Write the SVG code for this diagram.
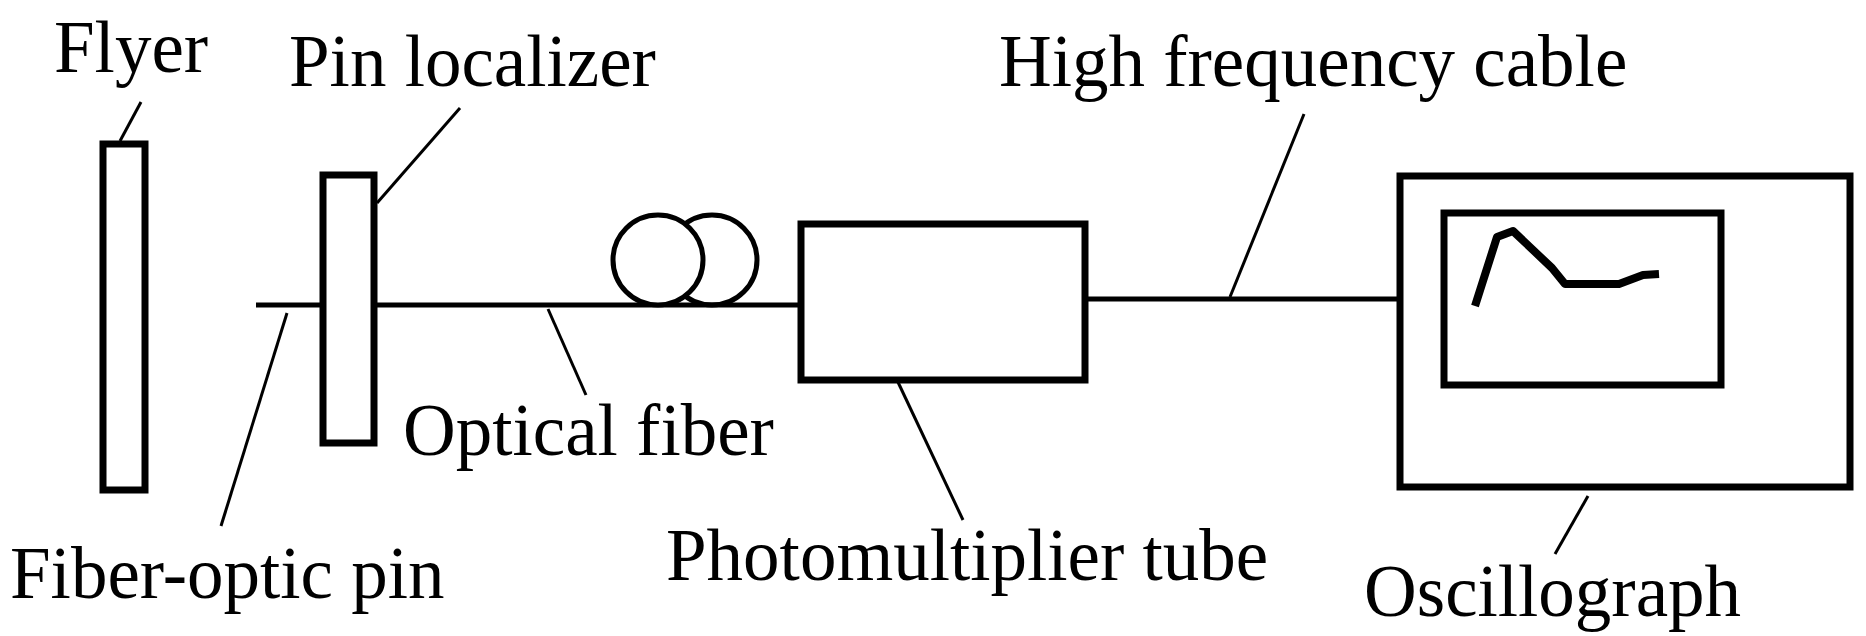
<svg xmlns="http://www.w3.org/2000/svg" width="1866" height="636" viewBox="0 0 1866 636">
<style>
.t{font-family:"Liberation Serif",serif;font-size:73px;fill:#000}
.b{fill:#fff;stroke:#000;stroke-width:7}
.l{fill:none;stroke:#000;stroke-width:3}
.w{fill:none;stroke:#000;stroke-width:5}
</style>
<rect width="1866" height="636" fill="#fff"/>
<g id="connectors">
<line class="w" x1="256" y1="305" x2="801" y2="305"/>
<line class="w" x1="1085" y1="299" x2="1397" y2="299"/>
<line class="l" x1="141" y1="102" x2="120" y2="141"/>
<line class="l" x1="460" y1="108" x2="377" y2="203"/>
<line class="l" x1="287" y1="313" x2="221" y2="526"/>
<line class="l" x1="548" y1="309" x2="586" y2="395"/>
<line class="l" x1="897" y1="380" x2="963" y2="520"/>
<line class="l" x1="1304" y1="114" x2="1230" y2="297"/>
<line class="l" x1="1588" y1="496" x2="1555" y2="554"/>
</g>
<g id="flyer"><rect class="b" x="103" y="144" width="42" height="346"/><text class="t" x="54" y="72">Flyer</text></g>
<g id="pin-localizer"><rect class="b" x="323" y="175" width="51" height="268"/><text class="t" x="289" y="86">Pin localizer</text></g>
<g id="fiber-optic-pin"><text class="t" x="10" y="598">Fiber-optic pin</text></g>
<g id="optical-fiber"><circle class="w" cx="712" cy="260" r="45"/><circle cx="658" cy="260" r="45" fill="#fff" stroke="#000" stroke-width="5"/><text class="t" x="403" y="455">Optical fiber</text></g>
<g id="pmt"><rect class="b" x="801" y="224" width="284" height="156"/><text class="t" x="666" y="580">Photomultiplier tube</text></g>
<g id="cable"><text class="t" x="999" y="86">High frequency cable</text></g>
<g id="oscillograph"><rect class="b" x="1400" y="176" width="450" height="311"/><rect fill="none" stroke="#000" stroke-width="7" x="1444" y="213" width="277" height="172"/>
<polyline fill="none" stroke="#000" stroke-width="8" stroke-linejoin="round" points="1475,306 1497,237 1513,231 1552,268 1565,284 1619,284 1643,275 1659,274"/>
<text class="t" x="1364" y="616">Oscillograph</text></g>
</svg>
